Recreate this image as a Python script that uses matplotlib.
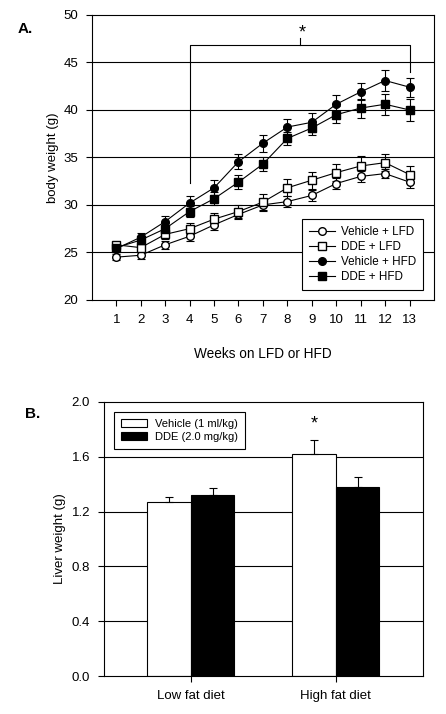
import numpy as np
import matplotlib
matplotlib.use('Agg')
import matplotlib.pyplot as plt
from matplotlib.lines import Line2D

plt.rcParams['font.family'] = ['Liberation Sans', 'DejaVu Sans']

# panel A: body weight over weeks
weeks = np.arange(1, 14)
veh_lfd = [24.5, 24.7, 25.8, 26.7, 27.9, 29.0, 30.0, 30.35, 31.0, 32.25, 33.0, 33.3, 32.4]
veh_lfd_err = [0.35, 0.35, 0.4, 0.5, 0.5, 0.5, 0.6, 0.6, 0.6, 0.6, 0.6, 0.5, 0.6]
dde_lfd = [25.8, 25.5, 26.9, 27.5, 28.5, 29.3, 30.3, 31.8, 32.6, 33.4, 34.1, 34.45, 33.2]
dde_lfd_err = [0.3, 0.4, 0.5, 0.6, 0.7, 0.7, 0.8, 0.9, 0.9, 0.9, 1.0, 0.9, 0.9]
veh_hfd = [25.4, 26.6, 28.25, 30.2, 31.8, 34.55, 36.5, 38.2, 38.7, 40.6, 41.9, 43.1, 42.4]
veh_hfd_err = [0.4, 0.4, 0.6, 0.7, 0.8, 0.8, 0.9, 0.9, 1.0, 1.0, 0.9, 1.1, 1.0]
dde_hfd = [25.5, 26.3, 27.5, 29.3, 30.65, 32.4, 34.3, 37.0, 38.1, 39.5, 40.2, 40.6, 40.0]
dde_hfd_err = [0.4, 0.4, 0.6, 0.6, 0.7, 0.7, 0.7, 0.7, 0.7, 0.9, 1.0, 1.1, 1.2]

# panel B: liver weight
diets = ['Low fat diet', 'High fat diet']
liver_veh = [1.27, 1.62]
liver_veh_err = [0.04, 0.10]
liver_dde = [1.32, 1.38]
liver_dde_err = [0.055, 0.075]

fig = plt.figure(figsize=(4.46, 7.14), dpi=100)

# ---- A ----
ax = fig.add_axes([0.206, 0.580, 0.767, 0.399])
for y in [25, 30, 35, 40, 45]:
    ax.axhline(y, color='black', lw=0.8, zorder=0)

series = [
    (veh_lfd, veh_lfd_err, 'o', 'white', 'Vehicle + LFD'),
    (dde_lfd, dde_lfd_err, 's', 'white', 'DDE + LFD'),
    (veh_hfd, veh_hfd_err, 'o', 'black', 'Vehicle + HFD'),
    (dde_hfd, dde_hfd_err, 's', 'black', 'DDE + HFD'),
]
handles = []
for vals, err, m, fc, lab in series:
    ax.errorbar(weeks, vals, yerr=err, marker=m, mfc=fc, mec='black', ms=5.5,
                color='black', lw=0.8, elinewidth=0.8, capsize=3, capthick=0.8,
                zorder=3)
    handles.append(Line2D([], [], marker=m, mfc=fc, mec='black', ms=5.5,
                          color='black', lw=0.8, label=lab))

# significance bracket
ax.plot([4, 4, 13, 13], [32.3, 46.8, 46.8, 44.0], color='black', lw=0.8)
ax.plot([8.5, 8.5], [46.8, 47.6], color='black', lw=0.8)
ax.text(8.6, 48.1, '*', ha='center', va='center', fontsize=13)

ax.set_xlim(0, 14)
ax.set_ylim(20, 50)
ax.set_xticks(weeks)
ax.set_yticks(range(20, 51, 5))
ax.tick_params(labelsize=9.5, direction='out', length=4, width=0.8)
ax.tick_params(axis='x', pad=6)
ax.tick_params(axis='y', pad=6)
ax.set_xlabel('Weeks on LFD or HFD', fontsize=9.8, labelpad=15)
ax.set_ylabel('body weight (g)', fontsize=9.5, labelpad=3)
for s in ax.spines.values():
    s.set_linewidth(0.8)
leg = ax.legend(handles=handles, loc='lower right', bbox_to_anchor=(0.985, 0.015),
                fontsize=8.4, frameon=True, fancybox=False, edgecolor='black',
                framealpha=1, handlelength=2.2, borderpad=0.6, labelspacing=0.25,
                handletextpad=0.5)
leg.get_frame().set_linewidth(0.8)
fig.text(0.04, 0.96, 'A.', fontsize=11, fontweight='bold', va='center')

# ---- B ----
bx = fig.add_axes([0.233, 0.053, 0.715, 0.384])
for y in [0.4, 0.8, 1.2, 1.6]:
    bx.axhline(y, color='black', lw=0.8, zorder=0)
pos = np.arange(len(diets))
w = 0.3
bx.bar(pos - w / 2, liver_veh, w, color='white', edgecolor='black', lw=0.8,
       label='Vehicle (1 ml/kg)', zorder=2)
bx.bar(pos + w / 2, liver_dde, w, color='black', edgecolor='black', lw=0.8,
       label='DDE (2.0 mg/kg)', zorder=2)
bx.errorbar(pos - w / 2, liver_veh, yerr=[[0, 0], liver_veh_err], fmt='none',
            ecolor='black', elinewidth=0.8, capsize=3, capthick=0.8, zorder=3)
bx.errorbar(pos + w / 2, liver_dde, yerr=[[0, 0], liver_dde_err], fmt='none',
            ecolor='black', elinewidth=0.8, capsize=3, capthick=0.8, zorder=3)
bx.text(1 - w / 2, 1.84, '*', ha='center', va='center', fontsize=13)

bx.set_xlim(-0.6, 1.6)
bx.set_ylim(0, 2.0)
bx.set_xticks(pos)
bx.set_xticklabels(diets)
bx.set_yticks(np.arange(0, 2.01, 0.4))
bx.set_yticklabels(['%.1f' % v for v in np.arange(0, 2.01, 0.4)])
bx.tick_params(labelsize=9.5, direction='out', length=4, width=0.8)
bx.tick_params(axis='x', pad=6)
bx.tick_params(axis='y', pad=6)
bx.set_ylabel('Liver weight (g)', fontsize=9.5, labelpad=4)
for s in bx.spines.values():
    s.set_linewidth(0.8)
leg2 = bx.legend(loc='upper left', bbox_to_anchor=(0.015, 0.985), fontsize=8.0,
                 frameon=True, fancybox=False, edgecolor='black', framealpha=1,
                 handlelength=2.3, handleheight=0.75, borderpad=0.65,
                 labelspacing=0.3, handletextpad=0.7)
leg2.get_frame().set_linewidth(0.8)
fig.text(0.055, 0.42, 'B.', fontsize=11, fontweight='bold', va='center')

fig.savefig('out.png', dpi=100)
